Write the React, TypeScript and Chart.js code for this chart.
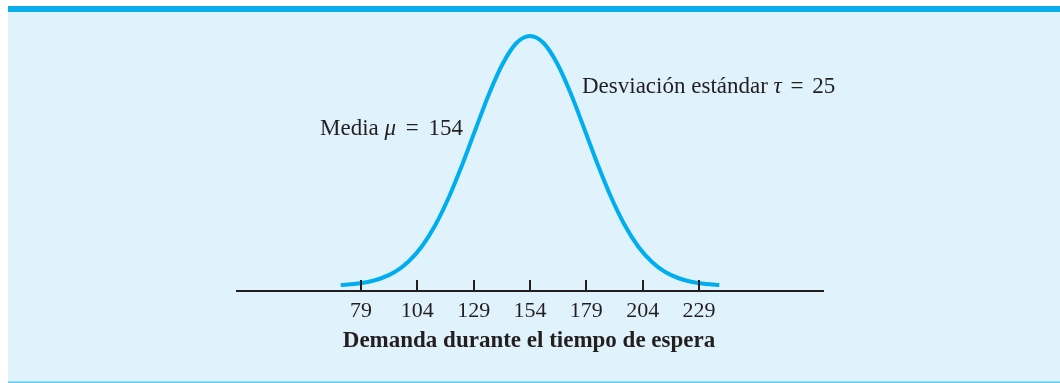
import React, { useEffect, useRef } from "react";
import { Chart, registerables } from "chart.js";

Chart.register(...registerables);

// Demand values (x) and relative curve heights
const demandX = [70, 76, 82, 88, 94, 100, 106, 112, 118, 124, 130, 136, 142, 148, 154,
  160, 166, 172, 178, 184, 190, 196, 202, 208, 214, 220, 226, 232, 238];
const curveHeight = [0.4, 0.8, 1.6, 3.1, 5.6, 9.7, 15.8, 24.4, 35.5, 48.7, 63.1, 77.2, 89.1, 97.2, 100,
  97.2, 89.1, 77.2, 63.1, 48.7, 35.5, 24.4, 15.8, 9.7, 5.6, 3.1, 1.6, 0.8, 0.4];
const tickValues = [79, 104, 129, 154, 179, 204, 229];
const axisMin = 24;
const axisMax = 284;
const axisTitle = "Demanda durante el tiempo de espera";
const meanLabel = [
  { t: "Media ", i: false, g: 0 },
  { t: "μ", i: true, g: 0 },
  { t: " ", i: false, g: 4 },
  { t: "=", i: false, g: 4 },
  { t: " 154", i: false, g: 0 },
];
const sdLabel = [
  { t: "Desviación estándar ", i: false, g: 0 },
  { t: "τ", i: true, g: 0 },
  { t: " ", i: false, g: 3 },
  { t: "=", i: false, g: 3 },
  { t: " 25", i: false, g: 0 },
];

const CURVE = "#00aeef";
const INK = "#231f20";
const BG = "#e0f2fb";
const SERIF = "'Liberation Serif', 'Times New Roman', serif";

function drawSegments(ctx: CanvasRenderingContext2D, segs: { t: string; i: boolean; g: number }[], x: number, y: number, size: number) {
  let cx = x;
  ctx.textBaseline = "alphabetic";
  ctx.textAlign = "left";
  for (const s of segs) {
    ctx.font = `${s.i ? "italic " : ""}${size}px ${SERIF}`;
    ctx.fillText(s.t, cx, y);
    cx += ctx.measureText(s.t).width + s.g;
  }
}

const decorPlugin = {
  id: "decor",
  beforeDraw(chart: any) {
    const { ctx, width, height } = chart;
    ctx.save();
    ctx.fillStyle = "#ffffff";
    ctx.fillRect(0, 0, width, height);
    ctx.fillStyle = BG;
    ctx.fillRect(8, 12, width - 8, height - 12);
    ctx.fillStyle = "#0aaeea";
    ctx.fillRect(8, 6, width - 8, 6);
    ctx.fillStyle = "#5ccdf0";
    ctx.fillRect(8, height - 1.5, width - 8, 1.5);
    ctx.restore();
  },
  afterDatasetsDraw(chart: any) {
    const { ctx } = chart;
    const xs = chart.scales.x;
    const bottom = chart.chartArea.bottom;
    ctx.save();
    ctx.strokeStyle = INK;
    ctx.lineWidth = 2;
    for (const v of tickValues) {
      const px = Math.round(xs.getPixelForValue(v));
      ctx.beginPath();
      ctx.moveTo(px, bottom - 11);
      ctx.lineTo(px, bottom);
      ctx.stroke();
    }
    ctx.fillStyle = INK;
    drawSegments(ctx, meanLabel, 320, 135, 23);
    drawSegments(ctx, sdLabel, 582, 93, 23);
    ctx.font = `bold 23px ${SERIF}`;
    ctx.textAlign = "center";
    ctx.textBaseline = "alphabetic";
    ctx.fillText(axisTitle, 529, 347);
    ctx.restore();
  },
};

export default function App() {
  const ref = useRef<HTMLCanvasElement | null>(null);
  useEffect(() => {
    if (!ref.current) return;
    const chart = new Chart(ref.current, {
      type: "line",
      data: {
        datasets: [
          {
            data: demandX.map((x, i) => ({ x, y: curveHeight[i] })),
            borderColor: CURVE,
            borderWidth: 4,
            pointRadius: 0,
            cubicInterpolationMode: "monotone",
            fill: false,
            clip: false as any,
          },
        ],
      },
      options: {
        animation: false,
        responsive: true,
        maintainAspectRatio: false,
        layout: { padding: { left: 237, right: 237, top: 26, bottom: 0 } },
        plugins: { legend: { display: false }, tooltip: { enabled: false } },
        scales: {
          x: {
            type: "linear",
            min: axisMin,
            max: axisMax,
            afterBuildTicks: (scale: any) => {
              scale.ticks = tickValues.map((v) => ({ value: v }));
            },
            afterFit: (scale: any) => {
              scale.height = 92;
            },
            grid: { display: false, drawTicks: false },
            border: { display: true, color: INK, width: 2 },
            ticks: {
              color: INK,
              padding: 7,
              autoSkip: false,
              maxRotation: 0,
              font: { family: SERIF, size: 22 },
            },
          },
          y: { display: false, min: -2, max: 104 },
        },
      },
      plugins: [decorPlugin],
    });
    return () => chart.destroy();
  }, []);
  return (
    <div style={{ position: "fixed", left: 0, top: 0, width: 1060, height: 383 }}>
      <canvas ref={ref} />
    </div>
  );
}
